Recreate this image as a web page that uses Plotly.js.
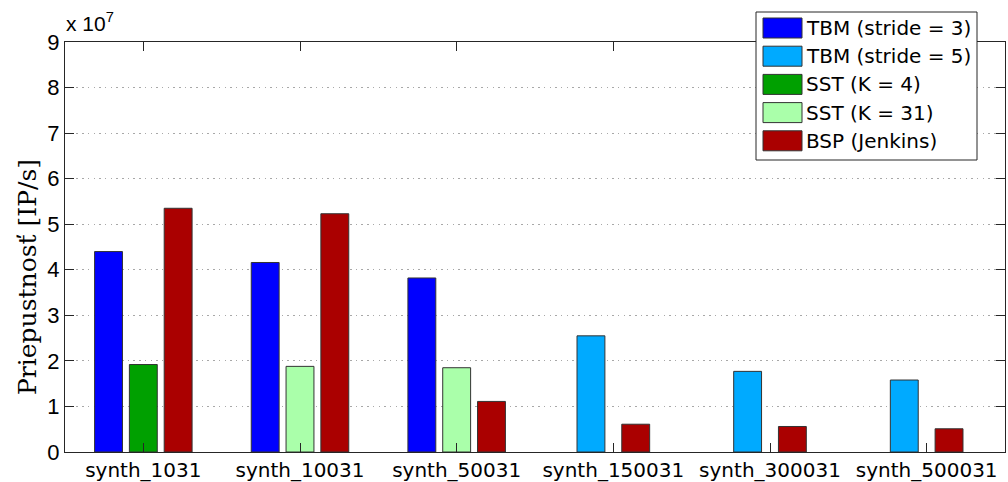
<!DOCTYPE html>
<html>
<head>
<meta charset="utf-8">
<script src="https://cdn.plot.ly/plotly-3.0.1.min.js"></script>
<style>html,body{margin:0;padding:0;background:#fff;} #chart{width:1008px;height:482px;}</style>
</head>
<body>
<div id="chart"></div>
<script>
// ---- data ----
const categories = ['synth_1031', 'synth_10031', 'synth_50031', 'synth_150031', 'synth_300031', 'synth_500031'];
const tbm3  = [4.40e7, 4.16e7, 3.82e7, null, null, null];
const tbm5  = [null, null, null, 2.55e7, 1.77e7, 1.58e7];
const sst4  = [1.92e7, null, null, null, null, null];
const sst31 = [null, 1.88e7, 1.85e7, null, null, null];
const bsp   = [5.35e7, 5.23e7, 1.11e7, 0.61e7, 0.56e7, 0.51e7];
const seriesNames = ['TBM (stride = 3)', 'TBM (stride = 5)', 'SST (K = 4)', 'SST (K = 31)', 'BSP (Jenkins)'];
const yTickValues = [0, 1e7, 2e7, 3e7, 4e7, 5e7, 6e7, 7e7, 8e7, 9e7];
const yTickLabels = ['0', '1', '2', '3', '4', '5', '6', '7', '8', '9'];
const yTitle = 'Priepustnost\u030C [IP/s]';

// ---- style ----
const colors = ['#0000ff', '#00aaff', '#00a000', '#aaffaa', '#aa0000'];
const allSeries = [tbm3, tbm5, sst4, sst31, bsp];
const barWidth = 0.178;
const sans = 'Liberation Sans, Arial, sans-serif';
const wideSans = 'DejaVu Sans, sans-serif';

// MATLAB-like grouping: per category, present series share slots
function offsetsFor(si) {
  return categories.map((c, ci) => {
    const present = allSeries.map((s, k) => s[ci] != null ? k : -1).filter(k => k >= 0);
    const n = present.length;
    const slot = 1 / (n + 1.5);
    const idx = present.indexOf(si);
    const center = (idx - (n - 1) / 2) * slot;
    return center - barWidth / 2;
  });
}

const traces = allSeries.map((s, si) => ({
  type: 'bar',
  x: categories,
  y: s,
  name: seriesNames[si],
  marker: {color: colors[si], line: {color: '#333333', width: 1}},
  width: categories.map(() => barWidth),
  offset: offsetsFor(si),
  showlegend: false,
  hoverinfo: 'x+y'
}));

// plot area pixels
const L = 65, R = 1005, T = 42, B = 452;
const W = 1008, H = 482;
const px = x => (x - L) / (R - L);
const py = y => (B - y) / (B - T);

const shapes = [];
const annotations = [];
// legend box
shapes.push({type: 'rect', xref: 'paper', yref: 'paper', x0: px(756), x1: px(977), y0: py(160), y1: py(12),
  fillcolor: '#ffffff', line: {color: '#262626', width: 1}, layer: 'above'});
const rowTop = 18, rowStep = 28.2, swH = 20;
seriesNames.forEach((nm, i) => {
  const y0 = rowTop + i * rowStep;
  shapes.push({type: 'rect', xref: 'paper', yref: 'paper', x0: px(763), x1: px(802), y0: py(y0 + swH), y1: py(y0),
    fillcolor: colors[i], line: {color: '#333333', width: 1}, layer: 'above'});
  annotations.push({xref: 'paper', yref: 'paper', x: px(804), y: py(y0 + swH / 2), xanchor: 'left', yanchor: 'middle',
    text: nm, showarrow: false, font: {family: wideSans, size: 20, color: '#000'}});
});
// exponent label
annotations.push({xref: 'paper', yref: 'paper', x: px(64), y: py(37), xanchor: 'left', yanchor: 'bottom',
  text: 'x 10<sup>7</sup>', showarrow: false, font: {family: sans, size: 21, color: '#000'}});
// y title
annotations.push({xref: 'paper', yref: 'paper', x: px(27), y: py(277), xanchor: 'center', yanchor: 'middle',
  text: yTitle, textangle: -90, showarrow: false,
  font: {family: 'DejaVu Serif, serif', size: 25, color: '#000'}});

const layout = {
  width: W, height: H,
  margin: {l: L, r: W - R, t: T, b: H - B, pad: 0},
  paper_bgcolor: '#ffffff', plot_bgcolor: '#ffffff',
  barmode: 'overlay',
  xaxis: {
    type: 'category', range: [-0.5, 5.5],
    showline: true, linecolor: '#262626', linewidth: 1, mirror: 'ticks',
    ticks: 'inside', ticklen: 9, tickcolor: '#262626', tickwidth: 1,
    showgrid: false, zeroline: false,
    tickfont: {family: wideSans, size: 20, color: '#000'}
  },
  yaxis: {
    range: [0, 9e7], tickvals: yTickValues, ticktext: yTickLabels,
    showline: true, linecolor: '#262626', linewidth: 1, mirror: 'ticks',
    ticks: 'inside', ticklen: 9, tickcolor: '#262626', tickwidth: 1,
    showgrid: true, gridcolor: '#a8a8a8', griddash: '1.5px,4.2px', gridwidth: 1,
    zeroline: false,
    tickfont: {family: sans, size: 22, color: '#000'}
  },
  shapes: shapes,
  annotations: annotations,
  showlegend: false
};

Plotly.newPlot('chart', traces, layout, {staticPlot: true, displayModeBar: false});
</script>
</body>
</html>
